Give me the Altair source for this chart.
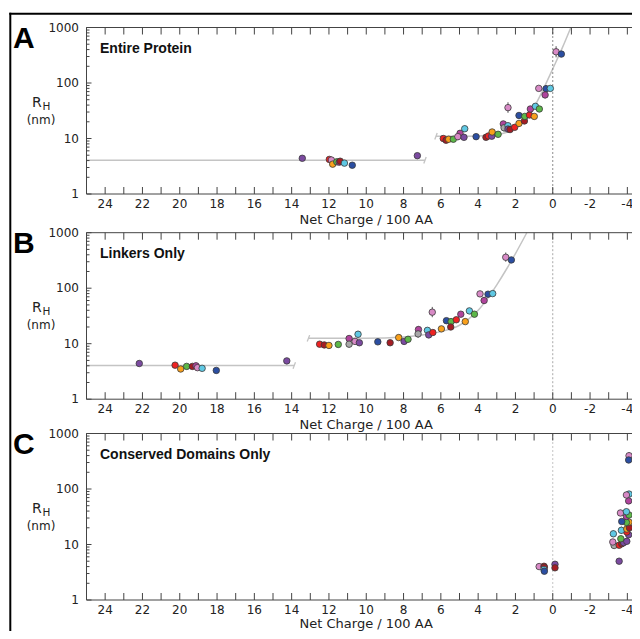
import altair as alt
import pandas as pd

# ---------------- data ----------------
COLOR_KEYS = ["red", "dkred", "orange", "green", "cyan", "blue", "purple", "magenta", "pink", "gray"]
COLOR_HEX = ["#ee2222", "#a51d24", "#f9a01b", "#5cb848", "#5fc8e3", "#2b4ea2", "#7b4aa0", "#b0449c", "#d88ac6", "#a8a8a8"]

# Panel A: Entire Protein
A_x = [13.43, 11.98, 11.87, 11.80, 11.58, 11.45, 11.40, 11.17, 10.75, 7.26,
       5.87, 5.72, 5.58, 5.33, 4.97, 5.09, 4.76, 4.72, 4.11, 3.58, 3.45, 3.27, 3.25, 2.93,
       2.65, 2.61, 2.40, 2.40, 2.29, 2.04, 2.40, 1.81, 1.81, 1.52, 1.50, 1.25, 1.20, 0.99,
       0.93, 0.72, 0.75, 0.36, 0.13, 0.41, -0.18, -0.46]
A_y = [4.4, 4.2, 4.1, 3.45, 3.8, 3.75, 3.9, 3.6, 3.3, 4.9,
       10.0, 9.3, 9.7, 9.7, 12.4, 10.8, 10.5, 15.0, 10.8, 10.5, 11.1, 11.0, 13.1, 11.9,
       18.3, 15.6, 17.0, 14.8, 14.5, 15.9, 36, 18.7, 26, 20.7, 25, 26.5, 34, 25,
       38, 34, 80, 79, 80, 61, 365, 332]
A_c = ["purple", "red", "pink", "orange", "green", "magenta", "dkred", "cyan", "blue", "purple",
       "red", "dkred", "orange", "green", "magenta", "pink", "purple", "cyan", "blue", "dkred", "red", "purple", "orange", "green",
       "magenta", "gray", "cyan", "purple", "dkred", "red", "pink", "orange", "blue", "dkred", "green", "red", "magenta", "orange",
       "cyan", "green", "pink", "blue", "cyan", "magenta", "pink", "blue"]
A_err_x = [5.09, 4.72, 2.61, 2.40, 0.36, 0.41, -0.18]
A_err_lo = [9.3, 13.2, 13.3, 29, 71, 53, 290]
A_err_hi = [12.0, 17.0, 18.5, 45, 92, 71, 460]
A_flat_x = [25, 6.85]
A_flat_y = [4.05, 4.05]
A_curve_x = [6.26, 5.0, 4.0, 3.0, 2.5, 2.0, 1.5, 1.0, 0.5, 0.0, -0.5, -0.97]
A_curve_y = [11.0, 11.0, 11.1, 11.7, 12.8, 15.4, 22, 37, 78, 180, 420, 1000]
A_cap_x = [6.85, 6.26]
A_cap_y = [4.05, 11.0]

# Panel B: Linkers Only
B_x = [22.17, 20.25, 19.95, 19.63, 19.32, 19.13, 19.05, 18.80, 18.04, 14.26,
       12.50, 12.25, 12.00, 11.50, 10.92, 10.92, 10.60, 10.44, 10.37, 9.38, 8.72, 8.26, 7.97, 7.76,
       7.20, 7.22, 6.72, 6.65, 6.43, 6.46, 5.97, 5.70, 5.45, 5.47, 5.17, 4.93, 4.69, 4.47,
       4.20, 3.90, 3.47, 3.22, 3.68, 2.52, 2.22]
B_y = [4.4, 4.1, 3.5, 3.9, 3.9, 4.0, 3.7, 3.6, 3.3, 4.9,
       9.8, 9.5, 9.3, 9.7, 12.4, 9.8, 11.0, 14.8, 10.4, 10.8, 10.4, 12.9, 11.0, 12.0,
       18, 15, 17.4, 14.4, 15.9, 37, 18.5, 26, 25, 20, 27, 34, 25, 39,
       34, 79, 78, 80, 60, 361, 323]
B_c = ["purple", "red", "orange", "green", "dkred", "magenta", "pink", "cyan", "blue", "purple",
       "red", "dkred", "orange", "green", "magenta", "gray", "pink", "cyan", "purple", "blue", "dkred", "orange", "purple", "green",
       "magenta", "gray", "cyan", "purple", "red", "pink", "orange", "blue", "green", "dkred", "red", "magenta", "orange", "cyan",
       "green", "pink", "blue", "cyan", "magenta", "pink", "blue"]
B_err_x = [10.92, 10.44, 8.72, 7.20, 7.22, 6.46, 3.68, 3.47, 2.52]
B_err_lo = [8.6, 13.0, 9.5, 16.0, 12.8, 30, 52, 70, 300]
B_err_hi = [11.2, 17.0, 11.5, 20.5, 17.5, 46, 70, 88, 440]
B_flat_x = [25, 13.86]
B_flat_y = [4.05, 4.05]
B_curve_x = [13.1, 11.0, 9.0, 8.0, 7.0, 6.0, 5.0, 4.5, 4.0, 3.5, 3.0, 2.5, 2.0, 1.39]
B_curve_y = [12.5, 12.5, 12.7, 13.2, 14.3, 16.5, 21.5, 28, 40, 65, 115, 215, 420, 1000]
B_cap_x = [13.86, 13.1]
B_cap_y = [4.05, 12.5]

# Panel C: Conserved Domains Only
C_x = [0.73, 0.47, 0.45, 0.47, 0.45, -0.12, -0.12,
       -3.56, -3.29, -3.22, -3.56, -3.70, -3.80, -3.97, -3.65, -3.25, -4.07,
       -3.97, -3.68, -3.97, -4.11, -4.09, -3.95, -3.70, -3.95, -4.09, -3.63,
       -3.95, -4.07, -4.09, -3.95, -4.09, -4.07]
C_y = [4.0, 4.05, 3.9, 3.55, 3.3, 4.4, 3.8,
       5.0, 9.6, 11.1, 9.7, 10.3, 10.8, 11.4, 12.7, 15.6, 15,
       16.8, 18, 19, 20, 25.3, 25, 26, 32, 34, 37,
       39, 61, 81, 78, 398, 333]
C_c = ["pink", "red", "dkred", "cyan", "blue", "purple", "dkred",
       "purple", "gray", "pink", "red", "dkred", "purple", "purple", "green", "cyan", "purple",
       "red", "cyan", "orange", "dkred", "orange", "green", "blue", "magenta", "green", "pink",
       "cyan", "magenta", "cyan", "pink", "pink", "blue"]
C_err_x = [-3.29, -3.25, -3.68, -3.63, -3.95, -4.09]
C_err_lo = [8.5, 13.6, 15.5, 33, 70, 345]
C_err_hi = [10.8, 17.8, 21, 42, 88, 460]

# axes
X_DOMAIN = [25, -5]
X_TICK_MARKS = [25, 24, 23, 22, 21, 20, 19, 18, 17, 16, 15, 14, 13, 12, 11, 10, 9, 8, 7, 6, 5,
                4, 3, 2, 1, 0, -1, -2, -3, -4, -5]
X_TICK_LABELS = [24, 22, 20, 18, 16, 14, 12, 10, 8, 6, 4, 2, 0, -2, -4]
Y_DOMAIN = [1, 1000]
Y_MAJOR = [1, 10, 100, 1000]
Y_MINOR = [2, 3, 4, 5, 6, 7, 8, 9, 20, 30, 40, 50, 60, 70, 80, 90, 200, 300, 400, 500, 600, 700, 800, 900]
X_TITLE = "Net Charge / 100 AA"

# ---------------- layout (pixels in the drawing) ----------------
VIEW_W, VIEW_H = 624, 623
X_LEFT, X_RIGHT = 78.5, 638.0
PANEL_H = 166.5
PANEL_TOPS = [19.5, 224.7, 425.5]
TITLE_OFFSETS = [29.5, 29.5, 28.0]
AXIS_COLOR = "#444"
FIT_COLOR = "#c4c4c4"
TXT = "#222"

xscale = alt.Scale(domain=X_DOMAIN, range=[X_LEFT, X_RIGHT], nice=False, zero=False)


def X(f="x"):
    return alt.X(f"{f}:Q", scale=xscale, axis=None)


def panel(T, toff, px, py, pc, ex, elo, ehi, letter, title, zero_color, fits=None, caps=None):
    Bt = T + PANEL_H
    ysc = alt.Scale(type="log", domain=Y_DOMAIN, range=[Bt, T], nice=False)

    def Y(f="y"):
        return alt.Y(f"{f}:Q", scale=ysc, axis=None)

    L = []
    if fits:
        rows = []
        for seg, (fx, fy) in enumerate(fits):
            for a, b in zip(fx, fy):
                rows.append({"x": a, "y": b, "seg": seg})
        L.append(alt.Chart(pd.DataFrame(rows)).mark_line(
            color=FIT_COLOR, strokeWidth=1.5, interpolate="monotone").encode(
            x=X(), y=Y(), detail="seg:N"))
    if caps:
        L.append(alt.Chart(pd.DataFrame({"x": caps[0], "y": caps[1]})).mark_point(
            shape="M -0.3 0.8 L 0.3 -0.8", size=64, filled=False, stroke=FIT_COLOR,
            strokeWidth=1.3, opacity=1).encode(x=X(), y=Y()))
    # dotted zero line
    L.append(alt.Chart(pd.DataFrame({"x": [0], "y": [Y_DOMAIN[0]], "y2": [Y_DOMAIN[1]]})).mark_rule(
        color=zero_color, strokeDash=[2, 2], strokeWidth=1).encode(x=X(), y=Y(), y2="y2:Q"))
    # error bars
    L.append(alt.Chart(pd.DataFrame({"x": ex, "lo": elo, "hi": ehi})).mark_rule(
        color="#555", strokeWidth=1).encode(x=X(), y=Y("lo"), y2="hi:Q"))
    # points
    L.append(alt.Chart(pd.DataFrame({"x": px, "y": py, "c": pc})).mark_circle(
        size=42, stroke="#3a3a3a", strokeWidth=0.8, opacity=1).encode(
        x=X(), y=Y(),
        fill=alt.Fill("c:N", scale=alt.Scale(domain=COLOR_KEYS, range=COLOR_HEX))))
    # frame (left, top, bottom axis lines)
    L.append(alt.Chart(pd.DataFrame({"x": [X_DOMAIN[0]], "y": [Y_DOMAIN[0]], "y2": [Y_DOMAIN[1]]})).mark_rule(
        color=AXIS_COLOR).encode(x=X(), y=Y(), y2="y2:Q"))
    L.append(alt.Chart(pd.DataFrame({"x": [X_DOMAIN[0], X_DOMAIN[0]], "x2": [X_DOMAIN[1], X_DOMAIN[1]],
                                     "y": Y_DOMAIN})).mark_rule(
        color=AXIS_COLOR).encode(x=X(), x2="x2:Q", y=Y()))
    # inward ticks
    xt = pd.DataFrame({"x": X_TICK_MARKS})
    L.append(alt.Chart(xt).mark_rule(color=AXIS_COLOR).encode(x=X(), y=alt.value(Bt), y2=alt.value(Bt - 7)))
    L.append(alt.Chart(xt).mark_rule(color=AXIS_COLOR).encode(x=X(), y=alt.value(T), y2=alt.value(T + 7)))
    ymaj = pd.DataFrame({"y": Y_MAJOR})
    ymin = pd.DataFrame({"y": Y_MINOR})
    L.append(alt.Chart(ymaj).mark_rule(color=AXIS_COLOR).encode(x=alt.value(X_LEFT), x2=alt.value(X_LEFT + 5), y=Y()))
    L.append(alt.Chart(ymin).mark_rule(color=AXIS_COLOR).encode(x=alt.value(X_LEFT), x2=alt.value(X_LEFT + 3), y=Y()))
    L.append(alt.Chart(ymaj).mark_rule(color=AXIS_COLOR).encode(x=alt.value(X_RIGHT), x2=alt.value(X_RIGHT - 7), y=Y()))
    L.append(alt.Chart(ymin).mark_rule(color=AXIS_COLOR).encode(x=alt.value(X_RIGHT), x2=alt.value(X_RIGHT - 3), y=Y()))
    # tick labels
    L.append(alt.Chart(pd.DataFrame({"x": X_TICK_LABELS, "t": [str(v) for v in X_TICK_LABELS]})).mark_text(
        font="DejaVu Sans", fontSize=12, color=TXT, baseline="middle", align="center").encode(
        x=X(), y=alt.value(Bt + 10), text="t:N"))
    L.append(alt.Chart(pd.DataFrame({"y": Y_MAJOR, "t": [str(v) for v in Y_MAJOR]})).mark_text(
        font="DejaVu Sans", fontSize=12, color=TXT, baseline="middle", align="right").encode(
        x=alt.value(X_LEFT - 7.5), y=Y(), text="t:N"))
    # axis titles
    L.append(alt.Chart(pd.DataFrame({"t": [X_TITLE]})).mark_text(
        font="DejaVu Sans", fontSize=13, color=TXT, baseline="alphabetic", align="center").encode(
        x=alt.value((X_LEFT + X_RIGHT) / 2), y=alt.value(Bt + toff), text="t:N"))
    L.append(alt.Chart(pd.DataFrame({"t": ["R"]})).mark_text(
        font="DejaVu Sans", fontSize=14, align="left", baseline="alphabetic", color=TXT).encode(
        x=alt.value(24), y=alt.value(T + 79.5), text="t:N"))
    L.append(alt.Chart(pd.DataFrame({"t": ["H"]})).mark_text(
        font="DejaVu Sans", fontSize=10.5, align="left", baseline="alphabetic", color=TXT).encode(
        x=alt.value(34.5), y=alt.value(T + 82.5), text="t:N"))
    L.append(alt.Chart(pd.DataFrame({"t": ["(nm)"]})).mark_text(
        font="DejaVu Sans", fontSize=12, align="center", baseline="alphabetic", color=TXT).encode(
        x=alt.value(33), y=alt.value(T + 96), text="t:N"))
    # panel letter and title
    L.append(alt.Chart(pd.DataFrame({"t": [letter]})).mark_text(
        font="Liberation Sans", fontWeight="bold", fontSize=30, align="left",
        baseline="alphabetic", color="#000").encode(x=alt.value(5), y=alt.value(T + 20), text="t:N"))
    L.append(alt.Chart(pd.DataFrame({"t": [title]})).mark_text(
        font="Liberation Sans", fontWeight="bold", fontSize=14, align="left",
        baseline="alphabetic", color="#111").encode(x=alt.value(92), y=alt.value(T + 25), text="t:N"))
    return alt.layer(*L)


pA = panel(PANEL_TOPS[0], TITLE_OFFSETS[0], A_x, A_y, A_c, A_err_x, A_err_lo, A_err_hi, "A", "Entire Protein",
           "#8c8c8c", fits=[(A_flat_x, A_flat_y), (A_curve_x, A_curve_y)], caps=(A_cap_x, A_cap_y))
pB = panel(PANEL_TOPS[1], TITLE_OFFSETS[1], B_x, B_y, B_c, B_err_x, B_err_lo, B_err_hi, "B", "Linkers Only",
           "#a8a8a8", fits=[(B_flat_x, B_flat_y), (B_curve_x, B_curve_y)], caps=(B_cap_x, B_cap_y))
pC = panel(PANEL_TOPS[2], TITLE_OFFSETS[2], C_x, C_y, C_c, C_err_x, C_err_lo, C_err_hi, "C",
           "Conserved Domains Only", "#c4c4c4")

# outer figure frame
frame = pd.DataFrame({"k": [0]})
border_v = alt.Chart(frame).mark_rule(color="#000", strokeWidth=2).encode(
    x=alt.value(2.3), y=alt.value(4.7), y2=alt.value(VIEW_H + 20))
border_h = alt.Chart(frame).mark_rule(color="#000", strokeWidth=2).encode(
    x=alt.value(1.3), x2=alt.value(VIEW_W + 20), y=alt.value(5.7))

chart = alt.layer(pA, pB, pC, border_v, border_h).resolve_scale(y="independent").properties(
    width=VIEW_W, height=VIEW_H, padding=0, autosize=alt.AutoSizeParams(type="none")
).configure_view(stroke="transparent").configure_legend(disable=True)

chart.save("out.html", embed_options={"renderer": "svg", "actions": False})
